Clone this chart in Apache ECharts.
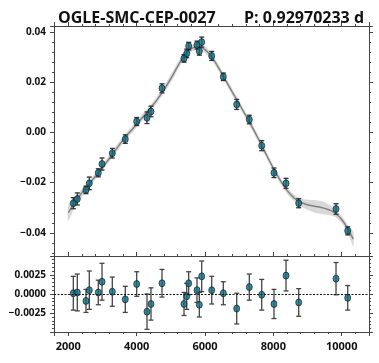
<!DOCTYPE html>
<html>
<head>
<meta charset="utf-8">
<title>OGLE-SMC-CEP-0027</title>
<script src="https://cdn.jsdelivr.net/npm/echarts@6/dist/echarts.min.js"></script>
<style>
  html, body { margin: 0; padding: 0; background: #fff; }
  #chart { width: 379px; height: 363px; }
</style>
</head>
<body>
<div id="chart"></div>
<script>
const obsTime = [2147, 2264, 2518, 2615, 2878, 2987, 3288, 3668, 4002, 4303, 4420, 4742,
  5386, 5465, 5523, 5766, 5834, 5904, 6197, 6536, 6928, 7297, 7660, 8019, 8371, 8742, 9834, 10176];
const obsFlux = [-0.0282, -0.0265, -0.0229, -0.0203, -0.0161, -0.0126, -0.0083, -0.0027, 0.0043, 0.0058, 0.0083, 0.0175,
  0.0294, 0.0314, 0.0343, 0.0347, 0.0323, 0.0359, 0.0304, 0.0221, 0.0111, 0.0051, -0.0053, -0.0161, -0.0203, -0.0282, -0.0305, -0.0392];
const obsErr = [0.0022, 0.0024, 0.0015, 0.0025, 0.0016, 0.0024, 0.0019, 0.0017, 0.0016, 0.0023, 0.0021, 0.0018,
  0.0015, 0.0017, 0.0015, 0.0016, 0.0016, 0.0020, 0.0018, 0.0015, 0.0020, 0.0017, 0.0020, 0.0019, 0.0020, 0.0018, 0.0021, 0.0016];
const residual = [0.0001, 0.0002, -0.0009, 0.0005, 0.0002, 0.0016, 0.0003, -0.0007, 0.0013, -0.0023, -0.0013, 0.0014,
  -0.0013, -0.0003, 0.0014, 0.0005, -0.0014, 0.0023, 0.0005, 0.0001, -0.0019, 0.0009, -0.0001, -0.0013, 0.0024, -0.0011, 0.0020, -0.0005];

// model curve and its uncertainty band (half width)
const modelTime = [2000, 2200, 2400, 2600, 2800, 3000, 3200, 3400, 3600, 3800,
  4000, 4200, 4400, 4600, 4800, 5000, 5200, 5400, 5600, 5800,
  6000, 6200, 6400, 6600, 6800, 7000, 7200, 7400, 7600, 7800,
  8000, 8200, 8400, 8600, 8800, 9000, 9200, 9400, 9600, 9800,
  10000, 10200, 10340];
const modelFlux = [-0.0320, -0.0277, -0.0240, -0.0207, -0.0174, -0.0140, -0.0104, -0.0067, -0.0031, 0.0001,
  0.0032, 0.0064, 0.0096, 0.0130, 0.0170, 0.0214, 0.0262, 0.0307, 0.0333, 0.0341,
  0.0329, 0.0299, 0.0256, 0.0208, 0.0160, 0.0113, 0.0065, 0.0016, -0.0036, -0.0090,
  -0.0143, -0.0190, -0.0231, -0.0260, -0.0278, -0.0288, -0.0294, -0.0299, -0.0307, -0.0321,
  -0.0347, -0.0390, -0.0425];
const modelSpread = [0.0031, 0.0019, 0.0015, 0.0013, 0.0013, 0.0013, 0.0013, 0.0013, 0.0013, 0.0013,
  0.0013, 0.0013, 0.0013, 0.0013, 0.0014, 0.0016, 0.0015, 0.0013, 0.0013, 0.0013,
  0.0013, 0.0013, 0.0013, 0.0013, 0.0013, 0.0013, 0.0013, 0.0013, 0.0013, 0.0013,
  0.0013, 0.0013, 0.0013, 0.0013, 0.0015, 0.0020, 0.0025, 0.0026, 0.0022, 0.0015,
  0.0014, 0.0018, 0.0028];

const xTicks = [2000, 4000, 6000, 8000, 10000];
const fluxTicks = [-0.04, -0.02, 0.00, 0.02, 0.04];
const residTicks = [-0.0025, 0.0000, 0.0025];

const X_MIN = 1582, X_MAX = 10799;
const TOP_MIN = -0.0492, TOP_MAX = 0.0423;
const RES_MIN = -0.00495, RES_MAX = 0.00495;

const frameColor = '#444';
const dotColor = '#0c6c86';
const font = 'Open Sans';

const chart = echarts.init(document.getElementById('chart'));

function minus(s) {
  return s.replace('-', '\u2212');
}

// one axis of the frame, ticks outward unless inside is set
function frameAxis(gridIndex, position, min, max, step, extra) {
  return Object.assign({
    type: 'value',
    gridIndex: gridIndex,
    position: position,
    min: min,
    max: max,
    minInterval: step,
    maxInterval: step,
    axisLine: { show: true, onZero: false, lineStyle: { color: frameColor, width: 1 } },
    axisTick: { show: true, inside: false, length: 4, lineStyle: { color: frameColor } },
    minorTick: { show: true, splitNumber: 5, length: 2, lineStyle: { color: frameColor } },
    axisLabel: { show: false },
    splitLine: { show: false },
    minorSplitLine: { show: false }
  }, extra || {});
}

function errorBar(color) {
  return function (params, api) {
    const x = api.value(0);
    const top = api.coord([x, api.value(2)]);
    const bot = api.coord([x, api.value(1)]);
    const cap = 2.5;
    const style = { stroke: color, lineWidth: 1.3 };
    return {
      type: 'group',
      children: [
        { type: 'line', shape: { x1: top[0], y1: top[1], x2: bot[0], y2: bot[1] }, style: style },
        { type: 'line', shape: { x1: top[0] - cap, y1: top[1], x2: top[0] + cap, y2: top[1] }, style: style },
        { type: 'line', shape: { x1: bot[0] - cap, y1: bot[1], x2: bot[0] + cap, y2: bot[1] }, style: style }
      ]
    };
  };
}

// the grey band: one polygon, upper edge then lower edge back
function bandShape(params, api) {
  const upper = modelTime.map((t, i) => api.coord([t, modelFlux[i] + modelSpread[i]]));
  const lower = modelTime.map((t, i) => api.coord([t, modelFlux[i] - modelSpread[i]])).reverse();
  return {
    type: 'polygon',
    shape: { points: upper.concat(lower), smooth: 0.25 },
    style: { fill: 'rgba(160,160,160,0.4)' }
  };
}

const fluxPoints = obsTime.map((t, i) => [t, obsFlux[i]]);
const fluxBars = obsTime.map((t, i) => [t, obsFlux[i] - obsErr[i], obsFlux[i] + obsErr[i]]);
const residPoints = obsTime.map((t, i) => [t, residual[i]]);
const residBars = obsTime.map((t, i) => [t, residual[i] - obsErr[i], residual[i] + obsErr[i]]);
const modelLine = modelTime.map((t, i) => [t, modelFlux[i]]);

const labelStyle = { fontFamily: font, fontWeight: 'bold', fontSize: 10, color: '#111' };

chart.setOption({
  animation: false,
  title: [
    {
      text: 'OGLE-SMC-CEP-0027',
      left: 53,
      top: 5,
      textStyle: { fontFamily: font, fontWeight: 'bold', fontSize: 16, color: '#111' }
    },
    {
      text: 'P: 0.92970233 d',
      right: 10,
      top: 5,
      textStyle: { fontFamily: font, fontWeight: 'bold', fontSize: 16, color: '#111' }
    }
  ],
  grid: [
    { left: 54, top: 26, width: 315, height: 230 },
    { left: 54, top: 256, width: 315, height: 76 }
  ],
  xAxis: [
    frameAxis(0, 'bottom', X_MIN, X_MAX, 2000, {
      axisTick: { show: true, inside: true, length: 4, lineStyle: { color: frameColor } },
      minorTick: { show: true, splitNumber: 5, length: 2, lineStyle: { color: frameColor } }
    }),
    frameAxis(0, 'top', X_MIN, X_MAX, 2000),
    frameAxis(1, 'bottom', X_MIN, X_MAX, 2000, {
      axisLabel: {
        show: true,
        fontFamily: font,
        fontWeight: 'bold',
        fontSize: 11,
        color: '#111',
        margin: 9,
        customValues: xTicks,
        formatter: v => String(v)
      }
    }),
    frameAxis(1, 'top', X_MIN, X_MAX, 2000, { axisTick: { show: false }, minorTick: { show: false } })
  ],
  yAxis: [
    frameAxis(0, 'left', TOP_MIN, TOP_MAX, 0.02, {
      axisLabel: Object.assign({
        show: true,
        margin: 8,
        customValues: fluxTicks,
        formatter: v => minus(v.toFixed(2))
      }, labelStyle)
    }),
    frameAxis(0, 'right', TOP_MIN, TOP_MAX, 0.02),
    frameAxis(1, 'left', RES_MIN, RES_MAX, 0.0025, {
      axisLabel: Object.assign({
        show: true,
        margin: 8,
        customValues: residTicks,
        formatter: v => minus(v.toFixed(4))
      }, labelStyle)
    }),
    frameAxis(1, 'right', RES_MIN, RES_MAX, 0.0025)
  ],
  series: [
    {
      type: 'custom',
      xAxisIndex: 0,
      yAxisIndex: 0,
      data: [[modelTime[0], modelFlux[0]]],
      renderItem: bandShape,
      silent: true,
      z: 1
    },
    {
      type: 'line',
      xAxisIndex: 0,
      yAxisIndex: 0,
      data: modelLine,
      smooth: true,
      symbol: 'none',
      lineStyle: { color: '#808080', width: 1.4 },
      silent: true,
      z: 2
    },
    {
      type: 'custom',
      xAxisIndex: 0,
      yAxisIndex: 0,
      data: fluxBars,
      encode: { x: 0, y: [1, 2] },
      renderItem: errorBar('#333'),
      z: 3
    },
    {
      type: 'scatter',
      xAxisIndex: 0,
      yAxisIndex: 0,
      data: fluxPoints,
      symbol: 'circle',
      symbolSize: [6, 7],
      itemStyle: { color: dotColor, borderColor: '#111', borderWidth: 0.8 },
      z: 4
    },
    {
      type: 'custom',
      xAxisIndex: 2,
      yAxisIndex: 2,
      data: residBars,
      encode: { x: 0, y: [1, 2] },
      renderItem: errorBar('#444'),
      z: 3
    },
    {
      type: 'scatter',
      xAxisIndex: 2,
      yAxisIndex: 2,
      data: residPoints,
      symbol: 'circle',
      symbolSize: [6, 7],
      itemStyle: { color: dotColor, borderColor: '#111', borderWidth: 0.8 },
      markLine: {
        silent: true,
        symbol: 'none',
        label: { show: false },
        lineStyle: { color: '#111', type: [2, 1.5], width: 1 },
        data: [{ yAxis: 0 }]
      },
      z: 4
    }
  ]
});
</script>
</body>
</html>
